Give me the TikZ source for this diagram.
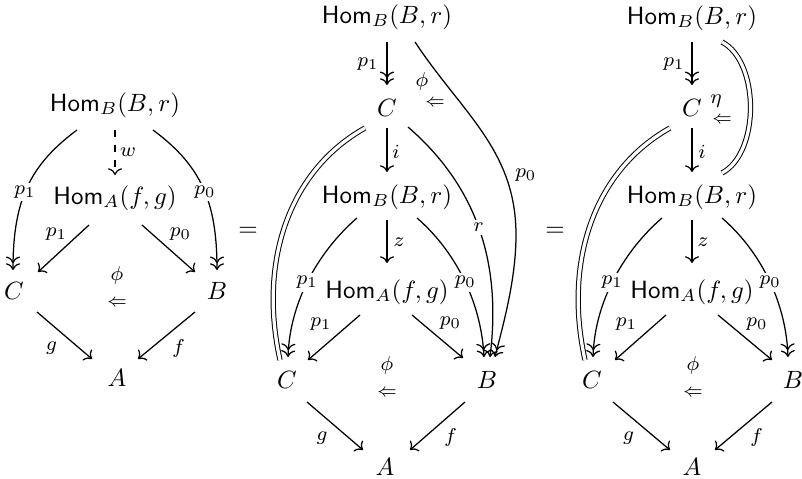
\documentclass[tikz,border=0pt]{standalone}
\usetikzlibrary{arrows.meta,calc}
\begin{document}
\begin{tikzpicture}[x=0.4pt,y=-0.4pt,>={To},line width=0.5pt,
  lbl/.style={font=\footnotesize,inner sep=0.5pt},
  cell/.style={font=\scriptsize,inner sep=0.5pt},
  inl/.style={font=\footnotesize,fill=white,inner sep=1.2pt},
  eqline/.style={double,double distance=1.3pt,line width=0.4pt}]
\useasboundingbox (0,0) rectangle (802,479);
% ---------------- left diagram
\node (LHB) at (115,105) {$\mathsf{Hom}_B(B,r)$};
\node (LHA) at (115,198) {$\mathsf{Hom}_A(f,g)$};
\node (LC) at (14,291) {$C$};
\node (LB) at (217,291) {$B$};
\node (LA) at (117,378) {$A$};
\node[lbl] (Lphi) at (117,276) {$\phi$};
\node[cell] (Lcell) at (117,303) {$\Leftarrow$};
\draw[->>] ($(LHB)+(-38,25)$) .. controls +(-47,35) and +(0,-70) .. ($(LC)+(-1,-21)$) node[inl,pos=0.54]{$p_1$};
\draw[->>] ($(LHB)+(38,25)$) .. controls +(47,35) and +(0,-70) .. ($(LB)+(0,-21)$) node[inl,pos=0.54]{$p_0$};
\draw[->,dashed] ($(LHB)+(0,25)$) -- ($(LHA)+(0,-23)$) node[lbl,pos=0.5,shift={(13,0)}]{$w$};
\draw[->] ($(LHA)+(-26,27)$) -- ($(LC)+(24,-19)$) node[lbl,pos=0.5,shift={(-7,-14)}]{$p_1$};
\draw[->] ($(LHA)+(27,27)$) -- ($(LB)+(-22,-19)$) node[lbl,pos=0.5,shift={(12,-14)}]{$p_0$};
\draw[->] ($(LC)+(23,21)$) -- ($(LA)+(-25,-19)$) node[lbl,pos=0.5,shift={(-13,13)}]{$g$};
\draw[->] ($(LB)+(-22,21)$) -- ($(LA)+(21,-19)$) node[lbl,pos=0.5,shift={(12,13)}]{$f$};
\node (eq1) at (248,232) {$=$};
% ---------------- middle diagram
\node (MHB1) at (387,17) {$\mathsf{Hom}_B(B,r)$};
\node (MC1) at (387,108) {$C$};
\node (MHB2) at (387,197) {$\mathsf{Hom}_B(B,r)$};
\node (MHA) at (387,292) {$\mathsf{Hom}_A(f,g)$};
\node (MC) at (287,380) {$C$};
\node (MB) at (487,380) {$B$};
\node (MA) at (385,467) {$A$};
\node[lbl] (Mphi1) at (422,82) {$\phi$};
\node[cell] (Mcell1) at (435,103) {$\Leftarrow$};
\node[lbl] (Mphi) at (387,366) {$\phi$};
\node[cell] (Mcell) at (387,393) {$\Leftarrow$};
\draw[->>] ($(MHB1)+(0,25)$) -- ($(MC1)+(0,-23)$) node[lbl,pos=0.5,shift={(-19,1)}]{$p_1$};
\draw[->] ($(MC1)+(0,20)$) -- ($(MHB2)+(0,-25)$) node[lbl,pos=0.5,shift={(9,2)}]{$i$};
\draw[->] ($(MHB2)+(0,23)$) -- ($(MHA)+(0,-29)$) node[lbl,pos=0.5,shift={(12,1)}]{$z$};
\draw[->>] ($(MHB1)+(28,25)$) .. controls +(47,71) and +(0,-85) .. ($(MHB1)+(129,218)$)
  node[lbl,pos=0.75,shift={(19,-4)}]{$p_0$}
  .. controls +(0,45) and +(8,-32) .. ($(MB)+(8,-23)$);
\draw[->] ($(MC1)+(21,19)$) .. controls +(67,58) and +(12,-97) .. ($(MB)+(3,-23)$) node[inl,pos=0.5]{$r$};
\draw[eqline] ($(MC1)+(-22,20)$) .. controls +(-75,42) and +(-22,-100) .. ($(MC)+(-7,-20)$);
\draw[->>] ($(MHB2)+(-30,21)$) .. controls +(-37,32) and +(2,-57) .. ($(MC)+(1,-23)$) node[inl,pos=0.53]{$p_1$};
\draw[->>] ($(MHB2)+(30,21)$) .. controls +(37,32) and +(-3,-57) .. ($(MB)+(-3,-23)$) node[inl,pos=0.53]{$p_0$};
\draw[->] ($(MHA)+(-27,23)$) -- ($(MC)+(21,-20)$) node[lbl,pos=0.5,shift={(-13,-13)}]{$p_1$};
\draw[->] ($(MHA)+(25,23)$) -- ($(MB)+(-24,-22)$) node[lbl,pos=0.5,shift={(13,-13)}]{$p_0$};
\draw[->] ($(MC)+(20,22)$) -- ($(MA)+(-22,-17)$) node[lbl,pos=0.5,shift={(-13,12)}]{$g$};
\draw[->] ($(MB)+(-22,22)$) -- ($(MA)+(25,-17)$) node[lbl,pos=0.5,shift={(13,12)}]{$f$};
\node (eq2) at (555,232) {$=$};
% ---------------- right diagram
\node (RHB1) at (692,18) {$\mathsf{Hom}_B(B,r)$};
\node (RC1) at (692,108) {$C$};
\node (RHB2) at (692,197) {$\mathsf{Hom}_B(B,r)$};
\node (RHA) at (692,292) {$\mathsf{Hom}_A(f,g)$};
\node (RC) at (592,380) {$C$};
\node (RB) at (793,380) {$B$};
\node (RA) at (692,467) {$A$};
\node[lbl] (Reta) at (716,101) {$\eta$};
\node[cell] (Rcell1) at (722,120) {$\Leftarrow$};
\node[lbl] (Rphi) at (693,366) {$\phi$};
\node[cell] (Rcell) at (693,393) {$\Leftarrow$};
\draw[->>] ($(RHB1)+(0,24)$) -- ($(RC1)+(0,-23)$) node[lbl,pos=0.5,shift={(-18,1)}]{$p_1$};
\draw[->] ($(RC1)+(0,20)$) -- ($(RHB2)+(0,-25)$) node[lbl,pos=0.5,shift={(10,2)}]{$i$};
\draw[->] ($(RHB2)+(0,23)$) -- ($(RHA)+(0,-29)$) node[lbl,pos=0.5,shift={(11,1)}]{$z$};
\draw[eqline] ($(RHB1)+(30,24)$) .. controls +(38,20) and +(38,-20) .. ($(RHB2)+(30,-24)$);
\draw[eqline] ($(RC1)+(-22,20)$) .. controls +(-75,42) and +(-22,-100) .. ($(RC)+(-7,-20)$);
\draw[->>] ($(RHB2)+(-30,21)$) .. controls +(-37,32) and +(2,-57) .. ($(RC)+(1,-23)$) node[inl,pos=0.53]{$p_1$};
\draw[->>] ($(RHB2)+(30,21)$) .. controls +(37,32) and +(-2,-57) .. ($(RB)+(-5,-23)$) node[inl,pos=0.53]{$p_0$};
\draw[->] ($(RHA)+(-26,23)$) -- ($(RC)+(23,-20)$) node[lbl,pos=0.5,shift={(-14,-13)}]{$p_1$};
\draw[->] ($(RHA)+(26,23)$) -- ($(RB)+(-21,-20)$) node[lbl,pos=0.5,shift={(12,-13)}]{$p_0$};
\draw[->] ($(RC)+(21,22)$) -- ($(RA)+(-22,-17)$) node[lbl,pos=0.5,shift={(-13,12)}]{$g$};
\draw[->] ($(RB)+(-21,22)$) -- ($(RA)+(23,-17)$) node[lbl,pos=0.5,shift={(13,12)}]{$f$};
\end{tikzpicture}
\end{document}
